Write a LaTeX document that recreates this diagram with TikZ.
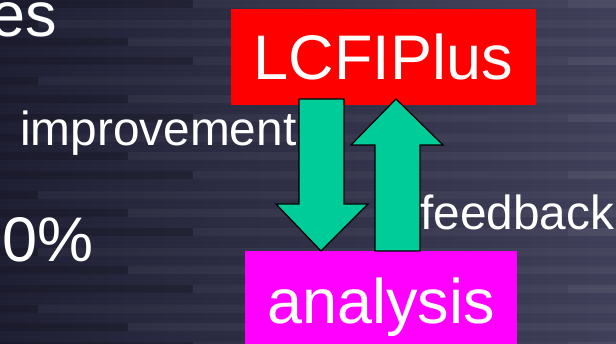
\documentclass[tikz,border=0pt]{standalone}
\usepackage{fontspec}
\setmainfont{Liberation Sans}

\definecolor{BgLeft}{HTML}{1F1F34}
\definecolor{BgRight}{HTML}{3F3F59}
\definecolor{Flow}{HTML}{00CC99}
\definecolor{Tool}{HTML}{FF0000}
\definecolor{Ana}{HTML}{FF00FF}

\tikzset{
  bigtxt/.style={font=\fontsize{63}{70}\selectfont, text=white},
  midtxt/.style={font=\fontsize{47.8}{52}\selectfont, text=white, inner sep=0},
  flowarrow/.style={fill=Flow, draw=black, line width=1.2pt, line join=miter}
}

\begin{document}
\begin{tikzpicture}[x=1pt, y=-1pt]

 \useasboundingbox (0,0) rectangle (616,344);
 \clip (0,0) rectangle (616,344);

  %%%%%%%%%% Background with stripes %%%%%%%%%%
 \shade [left color=BgLeft, right color=BgRight] (0,0) rectangle (616,344);
 \foreach \y in {0,4,...,344}
   \fill [white, opacity=0.012] (0,\y) rectangle (616,{\y+1.5});
 \foreach \k [evaluate=\k as \ya using 57*\k] in {0,...,6} {
   % long rows
   \fill [black, opacity=0.15] (0,\ya) rectangle (193,{\ya+8});
   \fill [white, opacity=0.035] (193,\ya) rectangle (568,{\ya+8});
   \fill [white, opacity=0.07] (568,\ya) rectangle (616,{\ya+8});
   % short rows
   \fill [black, opacity=0.15] (0,{\ya+20}) rectangle (38,{\ya+28});
   \fill [white, opacity=0.035] (38,{\ya+20}) rectangle (616,{\ya+28});
   \fill [black, opacity=0.15] (0,{\ya+38}) rectangle (128,{\ya+46});
   \fill [white, opacity=0.045] (128,{\ya+38}) rectangle (616,{\ya+46});
 }

  %%%%%%%%%% Text left over on the slide %%%%%%%%%%
 \node [bigtxt, inner sep=0, anchor=base east] (es) at (57,37) {es};
 \node [bigtxt, inner sep=0, anchor=base east] (pct) at (94,262) {0\%};

  %%%%%%%%%% Boxes %%%%%%%%%%
 \node [bigtxt, fill=Tool, minimum width=305, minimum height=96] (lcfi) at (383.5,57) {LCFIPlus};
 \node [bigtxt, fill=Ana, minimum width=272, minimum height=112, anchor=north] (ana) at (381,251) {analysis};

  %%%%%%%%%% Points of the arrows %%%%%%%%%%
 \coordinate (d0) at (299,99);
 \coordinate (d1) at (344,99);
 \coordinate (d2) at (344,204);
 \coordinate (d3) at (368,204);
 \coordinate (d4) at (321,251);
 \coordinate (d5) at (276,204);
 \coordinate (d6) at (299,204);

 \coordinate (u0) at (396,99);
 \coordinate (u1) at (443,145);
 \coordinate (u2) at (420,145);
 \coordinate (u3) at (420,251);
 \coordinate (u4) at (375,251);
 \coordinate (u5) at (375,145);
 \coordinate (u6) at (351,145);

  %%%%%%%%%% Arrows %%%%%%%%%%
 \filldraw [flowarrow] (d0) -- (d1) -- (d2) -- (d3) -- (d4) -- (d5) -- (d6) -- cycle;
 \filldraw [flowarrow] (u0) -- (u1) -- (u2) -- (u3) -- (u4) -- (u5) -- (u6) -- cycle;

  %%%%%%%%%% Labels %%%%%%%%%%
 \node [midtxt, anchor=base west] (improve) at (20,146) {improvement};
 \node [midtxt, anchor=base west] (feed) at (420,230) {feedback};

\end{tikzpicture}
\end{document}
